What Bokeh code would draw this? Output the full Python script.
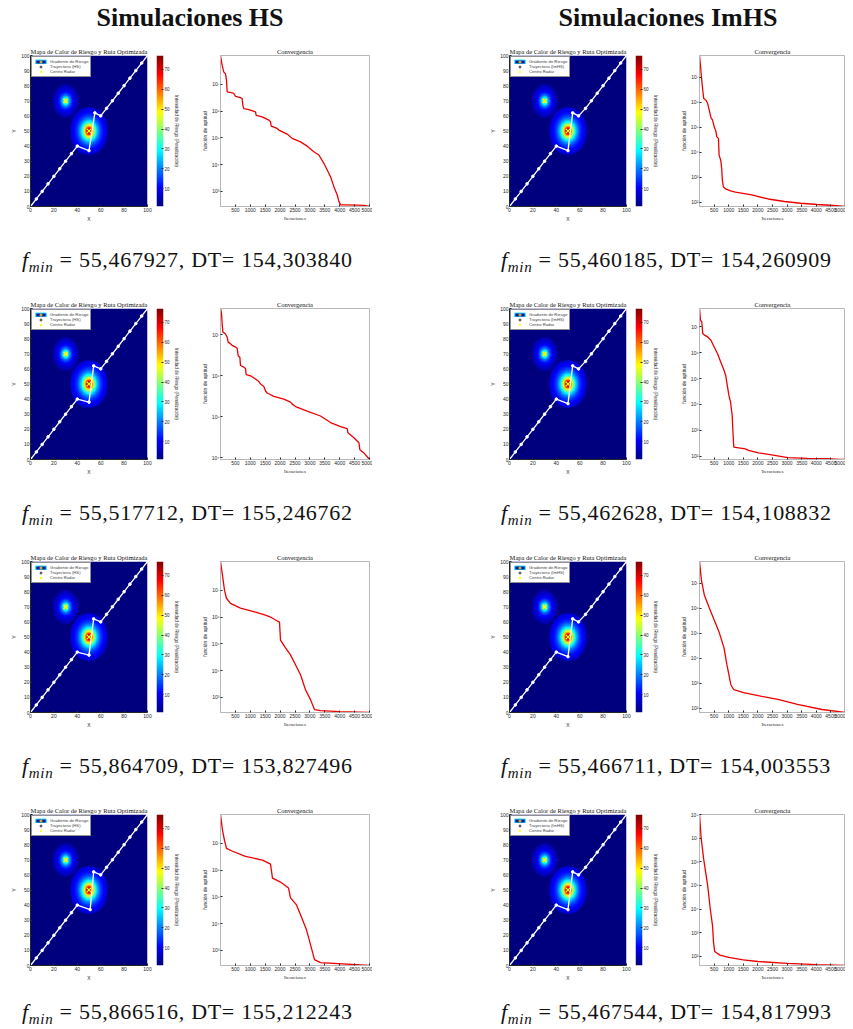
import numpy as np
from bokeh.plotting import figure
from bokeh.layouts import column, row
from bokeh.models import (Div, Spacer, LinearColorMapper, FixedTicker, Legend,
                          LegendItem, Range1d)
from bokeh.embed import file_html
from bokeh.resources import INLINE

# ------------------------------------------------------------------ data
col_titles = ["Simulaciones HS", "Simulaciones ImHS"]
traj_labels = ["Trayectoria (HS)", "Trayectoria (ImHS)"]
fmin_hs = ["55,467927", "55,517712", "55,864709", "55,866516"]
dt_hs = ["154,303840", "155,246762", "153,827496", "155,212243"]
fmin_im = ["55,460185", "55,462628", "55,466711", "55,467544"]
dt_im = ["154,260909", "154,108832", "154,003553", "154,817993"]

# radar risk sources (centre, peak intensity, decay scale, reach)
radar_x = [30, 50]
radar_y = [70, 50]
radar_peak = [40, 77]
radar_scale = [3.6, 4.8]
radar_reach = [11, 16]
risk_floor = 1
risk_max = 77
cbar_ticks = [10, 20, 30, 40, 50, 60, 70]

# optimised trajectories (waypoints)
path_hs1_x = [0, 5, 10, 15, 20, 25, 30, 35, 40, 50, 55, 60, 65, 70, 75, 80, 85, 90, 95, 100]
path_hs1_y = [0, 5, 10, 15, 20, 25, 30, 35, 40, 37, 62, 60, 65, 70, 75, 80, 85, 90, 95, 100]
path_hs2_x = [0, 5, 10, 15, 20, 25, 30, 35, 40, 50, 54, 60, 65, 70, 75, 80, 85, 90, 95, 100]
path_hs2_y = [0, 5, 10, 15, 20, 25, 30, 35, 40, 38, 62, 60, 65, 70, 75, 80, 85, 90, 95, 100]
path_hs3_x = [0, 5, 10, 15, 20, 25, 30, 35, 40, 50, 54, 60, 65, 70, 75, 80, 85, 90, 95, 100]
path_hs3_y = [0, 5, 10, 15, 20, 25, 30, 35, 40, 38, 62, 60, 65, 70, 75, 80, 85, 90, 95, 100]
path_hs4_x = [0, 5, 10, 15, 20, 25, 30, 35, 40, 51, 54, 60, 65, 70, 75, 80, 85, 90, 95, 100]
path_hs4_y = [0, 5, 10, 15, 20, 25, 30, 35, 40, 37, 62, 60, 65, 70, 75, 80, 85, 90, 95, 100]
path_im1_x = [0, 5, 10, 15, 20, 25, 30, 35, 40, 50, 54, 59, 65, 70, 75, 80, 85, 90, 95, 100]
path_im1_y = [0, 5, 10, 15, 20, 25, 30, 35, 40, 37, 62, 60, 65, 70, 75, 80, 85, 90, 95, 100]
path_im2_x = [0, 5, 10, 15, 20, 25, 30, 35, 40, 50, 54, 59, 65, 70, 75, 80, 85, 90, 95, 100]
path_im2_y = [0, 5, 10, 15, 20, 25, 30, 35, 40, 37, 62, 60, 65, 70, 75, 80, 85, 90, 95, 100]
path_im3_x = [0, 5, 10, 15, 20, 25, 30, 35, 40, 50, 54, 59, 65, 70, 75, 80, 85, 90, 95, 100]
path_im3_y = [0, 5, 10, 15, 20, 25, 30, 35, 40, 37, 62, 60, 65, 70, 75, 80, 85, 90, 95, 100]
path_im4_x = [0, 5, 10, 15, 20, 25, 30, 35, 40, 50, 54, 59, 65, 70, 75, 80, 85, 90, 95, 100]
path_im4_y = [0, 5, 10, 15, 20, 25, 30, 35, 40, 37, 62, 60, 65, 70, 75, 80, 85, 90, 95, 100]

# convergence curves: iteration and log10(fitness)
hs1_it = [0, 56, 112, 168, 201, 224, 392, 448, 503, 671, 727, 750, 783, 951, 1175, 1197, 1399, 1623, 1679, 1701,
          1903, 1958, 2238, 2406, 2686, 2910, 3133, 3301, 3469, 3581, 3693, 3805, 3917, 3973, 4029, 4141, 4588, 4812, 5000]
hs1_lg = [8.07, 7.70, 7.45, 7.39, 7.14, 6.71, 6.68, 6.65, 6.55, 6.50, 6.46, 6.21, 6.09, 6.05, 5.97, 5.84, 5.78, 5.66, 5.60, 5.44,
          5.35, 5.29, 5.14, 4.98, 4.85, 4.69, 4.48, 4.36, 4.05, 3.80, 3.55, 3.18, 2.87, 2.63, 2.50, 2.50, 2.49, 2.48, 2.44]
hs2_it = [0, 34, 56, 78, 168, 224, 257, 336, 392, 503, 559, 593, 649, 671, 783, 839, 861, 1007, 1175, 1287,
          1343, 1455, 1511, 1567, 1790, 2126, 2350, 2406, 2518, 2909, 3357, 3693, 4029, 4252, 4275, 4476, 4644, 4677, 4812, 5000]
hs2_lg = [7.64, 7.52, 7.27, 7.07, 7.02, 6.94, 6.82, 6.78, 6.74, 6.70, 6.67, 6.49, 6.45, 6.25, 6.21, 6.18, 6.03, 6.00, 5.92, 5.86,
          5.80, 5.74, 5.63, 5.58, 5.50, 5.43, 5.36, 5.31, 5.25, 5.14, 5.02, 4.86, 4.76, 4.71, 4.61, 4.49, 4.37, 4.20, 4.12, 3.96]
hs3_it = [0, 67, 134, 200, 336, 671, 1174, 1510, 1678, 1846, 1980, 2013, 2181, 2349, 2517, 2685, 2852, 3020, 3154, 3356, 4000, 5000]
hs3_lg = [8.07, 7.55, 7.00, 6.70, 6.51, 6.33, 6.18, 6.07, 6.00, 5.89, 5.81, 5.14, 4.85, 4.59, 4.22, 3.85, 3.29, 2.92, 2.55, 2.51, 2.47, 2.44]
hs4_it = [0, 67, 134, 201, 403, 839, 1409, 1678, 1745, 2013, 2282, 2349, 2550, 2685, 2886, 3020, 3154, 3356, 5000]
hs4_lg = [8.07, 7.48, 7.11, 6.81, 6.70, 6.51, 6.37, 6.22, 5.70, 5.55, 5.33, 4.96, 4.70, 4.33, 3.77, 3.22, 2.66, 2.55, 2.44]
im1_it = [0, 34, 56, 89, 112, 145, 224, 280, 336, 392, 448, 503, 559, 593, 649, 671, 727, 760, 783, 816,
          895, 1063, 1231, 1790, 2350, 2909, 3469, 4029, 4588, 5000]
im1_lg = [7.86, 7.46, 7.13, 6.73, 6.47, 6.14, 6.07, 5.94, 5.67, 5.38, 5.28, 5.01, 4.85, 4.61, 4.55, 3.88, 3.68, 3.35, 2.89, 2.62,
          2.53, 2.45, 2.40, 2.29, 2.13, 2.03, 1.96, 1.91, 1.87, 1.83]
im2_it = [0, 34, 78, 112, 168, 280, 392, 503, 615, 727, 839, 895, 951, 1007, 1063, 1119, 1152, 1175, 1343, 1567,
          1679, 2014, 2574, 3022, 3693, 4364, 4812, 5000]
im2_lg = [7.71, 7.26, 7.19, 6.74, 6.68, 6.61, 6.48, 6.22, 5.97, 5.64, 5.32, 5.13, 4.74, 4.35, 4.09, 3.58, 2.80, 2.35, 2.32, 2.28,
          2.22, 2.13, 2.03, 1.94, 1.91, 1.90, 1.87, 1.87]
im3_it = [0, 67, 168, 336, 503, 671, 839, 940, 1074, 1174, 1510, 2013, 2685, 3356, 4195, 5000]
im3_lg = [7.86, 7.11, 6.51, 6.00, 5.52, 5.04, 4.41, 3.73, 2.94, 2.74, 2.62, 2.50, 2.35, 2.15, 1.95, 1.83]
im4_it = [0, 57, 144, 279, 369, 446, 480, 520, 700, 1000, 1500, 2000, 3000, 4000, 5000]
im4_lg = [8.00, 7.00, 6.10, 5.00, 4.00, 3.30, 2.60, 2.20, 2.05, 1.95, 1.85, 1.78, 1.70, 1.65, 1.61]

hs_decades = [[3, 4, 5, 6, 7], [4, 5, 6, 7], [3, 4, 5, 6, 7], [3, 4, 5, 6, 7]]
im_decades = [[2, 3, 4, 5, 6, 7], [2, 3, 4, 5, 6, 7], [2, 3, 4, 5, 6, 7], [2, 3, 4, 5, 6, 7, 8]]
iter_ticks = [500, 1000, 1500, 2000, 2500, 3000, 3500, 4000, 4500, 5000]

# ------------------------------------------------------------------ helpers
def jet(n=256):
    out = []
    for i in range(n):
        t = i / (n - 1)
        r = min(max(1.5 - abs(4 * t - 3), 0), 1)
        g = min(max(1.5 - abs(4 * t - 2), 0), 1)
        b = min(max(1.5 - abs(4 * t - 1), 0), 1)
        out.append("#%02x%02x%02x" % (int(r * 255), int(g * 255), int(b * 255)))
    return out

JET = jet()
mapper = LinearColorMapper(palette=JET, low=risk_floor, high=risk_max)

gx = np.linspace(0, 100, 201)
GX, GY = np.meshgrid(gx, gx)
risk = np.full(GX.shape, float(risk_floor))
for cx, cy, pk, sc, rc in zip(radar_x, radar_y, radar_peak, radar_scale, radar_reach):
    d = np.hypot(GX - cx, GY - cy)
    risk += np.where(d <= rc, pk / (1 + (d / sc) ** 2), 0.0)

SANS = "Liberation Sans"
SERIF = "Liberation Serif"
AX = "#262626"
SUP = str.maketrans("0123456789-", "⁰¹²³⁴⁵⁶⁷⁸⁹⁻")
Z = (0, 0, 0, 0)


def style_axis(ax, fs="5px"):
    ax.major_label_text_font = SANS
    ax.major_label_text_font_size = fs
    ax.major_label_text_color = AX
    ax.axis_label_text_font = SANS
    ax.axis_label_text_font_size = fs
    ax.axis_label_text_font_style = "normal"
    ax.axis_label_text_color = AX
    ax.major_tick_in = 2
    ax.major_tick_out = 0
    ax.minor_tick_in = 0
    ax.minor_tick_out = 0
    ax.axis_line_color = AX
    ax.major_tick_line_color = AX
    ax.major_label_standoff = 1
    ax.axis_label_standoff = 1


def style_title(p):
    p.title.text_font = SERIF
    p.title.text_font_size = "6.5px"
    p.title.text_font_style = "normal"
    p.title.text_color = "#111111"
    p.title.align = "center"
    p.title.standoff = 1
    p.title.offset = 0


def heat_panel(px, py, traj_label):
    p = figure(width=148, height=179, x_range=Range1d(0, 100), y_range=Range1d(0, 100),
               output_backend="svg", toolbar_location=None,
               min_border_left=17, min_border_right=9, min_border_top=10, min_border_bottom=17,
               title="Mapa de Calor de Riesgo y Ruta Optimizada")
    style_title(p)
    p.grid.visible = False
    p.outline_line_color = None
    p.image(image=[risk], x=0, y=0, dw=100, dh=100, color_mapper=mapper)
    p.line(px, py, line_color="white", line_width=1.3)
    p.scatter(px, py, size=2.6, color="white")
    r_rad = p.scatter(radar_x, radar_y, marker="x", size=6, line_color="#ffff00", line_width=1.3)
    g1 = p.rect(x=[-50], y=[-50], width=1, height=1, fill_color="#0b1f9e", line_color="#30e0ff")
    g2 = p.scatter(x=[-50], y=[-50], marker="circle", size=3, fill_color="#d01010", line_color="#e0e020")
    tdot = p.scatter(x=[-50], y=[-50], marker="circle", size=1.8, color="#555555")
    leg = Legend(items=[LegendItem(label="Gradiente de Riesgo", renderers=[g1, g2]),
                        LegendItem(label=traj_label, renderers=[tdot]),
                        LegendItem(label="Centro Radar", renderers=[r_rad])],
                 location="top_left", label_text_font=SANS, label_text_font_size="4.2px",
                 glyph_height=5, glyph_width=13, label_height=5, spacing=0, padding=2,
                 margin=1, label_standoff=3, border_line_color="#222222",
                 border_line_width=0.6, background_fill_alpha=1)
    p.add_layout(leg)
    p.xaxis.ticker = FixedTicker(ticks=[0, 20, 40, 60, 80, 100])
    p.yaxis.ticker = FixedTicker(ticks=[0, 10, 20, 30, 40, 50, 60, 70, 80, 90, 100])
    p.xaxis.axis_label = "X"
    p.yaxis.axis_label = "Y"
    style_axis(p.xaxis[0])
    style_axis(p.yaxis[0])
    return p


def cbar_panel():
    p = figure(width=34, height=179, x_range=Range1d(0, 1), y_range=Range1d(risk_floor, risk_max),
               output_backend="svg", toolbar_location=None, x_axis_location=None,
               y_axis_location="right",
               min_border_left=0, min_border_right=27, min_border_top=10, min_border_bottom=17)
    p.grid.visible = False
    p.outline_line_color = None
    ramp = np.linspace(risk_floor, risk_max, 256).reshape(256, 1)
    p.image(image=[ramp], x=0, y=risk_floor, dw=1, dh=risk_max - risk_floor, color_mapper=mapper)
    p.yaxis.ticker = FixedTicker(ticks=cbar_ticks)
    p.yaxis.axis_label = "Intensidad de Riesgo (Penalización)"
    style_axis(p.yaxis[0], "4.5px")
    p.yaxis.axis_line_color = None
    return p


def conv_panel(it, lg, decades, width, rb):
    vals = [10 ** v for v in lg]
    p = figure(width=width, height=179, y_axis_type="log",
               x_range=Range1d(0, 5000), y_range=Range1d(min(vals), max(vals)),
               output_backend="svg", toolbar_location=None,
               min_border_left=30, min_border_right=rb, min_border_top=10, min_border_bottom=17,
               title="Convergencia")
    style_title(p)
    p.grid.visible = False
    p.outline_line_color = "#b8b8b8"
    p.line(it, vals, line_color="#ee0000", line_width=1.3)
    p.xaxis.ticker = FixedTicker(ticks=iter_ticks)
    ticks = [float(10 ** d) for d in decades]
    p.yaxis.ticker = FixedTicker(ticks=ticks)
    p.yaxis.major_label_overrides = {float(10 ** d): "10" + str(d).translate(SUP) for d in decades}
    p.xaxis.axis_label = "Iteraciones"
    p.yaxis.axis_label = "función de aptitud"
    style_axis(p.xaxis[0])
    style_axis(p.yaxis[0])
    p.xaxis.axis_label_text_font = SERIF
    p.xaxis.axis_line_color = "#b8b8b8"
    p.yaxis.axis_line_color = "#b8b8b8"
    return p


def title_div(txt, width):
    html = ('<div style="font-family:Liberation Serif,serif;font-weight:bold;font-size:26px;'
            'line-height:26px;text-align:center;white-space:nowrap;padding-top:5px;'
            'width:%dpx;color:#111;">%s</div>' % (width, txt))
    return Div(text=html, width=width, height=45, margin=Z)


def cap_div(fm, dt, width, height, mt, ml):
    html = ('<div style="font-family:Liberation Serif,serif;font-size:22px;line-height:22px;'
            'white-space:nowrap;letter-spacing:0.7px;padding-top:%dpx;padding-left:%dpx;color:#111;">'
            '<i>f</i><sub style="font-size:15px;font-style:italic;line-height:0;">min</sub>'
            '&nbsp;=&nbsp;%s, DT=&nbsp;%s</div>'
            % (mt, ml, fm, dt))
    return Div(text=html, width=width, height=height, margin=Z,
               styles={"font-family": "Liberation Serif, serif"})


paths_hs = [(path_hs1_x, path_hs1_y), (path_hs2_x, path_hs2_y), (path_hs3_x, path_hs3_y), (path_hs4_x, path_hs4_y)]
paths_im = [(path_im1_x, path_im1_y), (path_im2_x, path_im2_y), (path_im3_x, path_im3_y), (path_im4_x, path_im4_y)]
conv_hs = [(hs1_it, hs1_lg), (hs2_it, hs2_lg), (hs3_it, hs3_lg), (hs4_it, hs4_lg)]
conv_im = [(im1_it, im1_lg), (im2_it, im2_lg), (im3_it, im3_lg), (im4_it, im4_lg)]

items = [row(Spacer(width=8, height=45, margin=Z), title_div(col_titles[0], 364),
             Spacer(width=131, height=45, margin=Z), title_div(col_titles[1], 330))]
for k in range(4):
    items.append(row(
        Spacer(width=8, height=179, margin=Z),
        heat_panel(paths_hs[k][0], paths_hs[k][1], traj_labels[0]),
        cbar_panel(),
        conv_panel(conv_hs[k][0], conv_hs[k][1], hs_decades[k], 182, 3),
        Spacer(width=115, height=179, margin=Z),
        heat_panel(paths_im[k][0], paths_im[k][1], traj_labels[1]),
        cbar_panel(),
        conv_panel(conv_im[k][0], conv_im[k][1], im_decades[k], 176, 0),
    ))
    h = 74 if k < 3 else 46
    mt = 25 if k < 3 else 18
    items.append(row(Spacer(width=8, height=h, margin=Z),
                     cap_div(fmin_hs[k], dt_hs[k], 364, h, mt, 14),
                     cap_div(fmin_im[k], dt_im[k], 473, h, mt, 129)))

layout = column(*items)
open("out.html", "w").write(file_html(layout, INLINE))
